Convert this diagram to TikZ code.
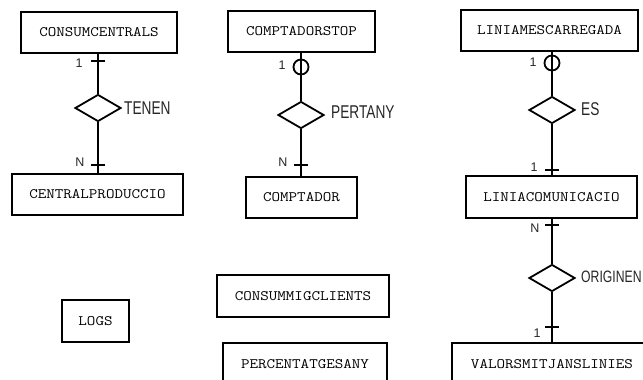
\documentclass[tikz,border=0pt]{standalone}
\usepackage{fontspec}
\setmainfont{Liberation Sans}
\newfontfamily\boxfont[FakeStretch=1.15]{Latin Modern Mono}
\newfontfamily\labfont[FakeStretch=0.74]{Liberation Sans}
\usetikzlibrary{shapes.geometric,calc}
\begin{document}
\begin{tikzpicture}[x=1pt,y=-1pt,
  entity/.style={draw,line width=1.8pt,rectangle,inner sep=0pt,minimum height=41pt,
    font=\boxfont\fontsize{14.4}{16}\selectfont,text=black},
  rel/.style={draw,line width=1.8pt,diamond,inner sep=0pt,minimum width=46pt,minimum height=27pt},
  conn/.style={line width=1.8pt},
  card/.style={font=\fontsize{12.5}{14}\selectfont,inner sep=0pt,text=black!85},
  rlabel/.style={font=\labfont\fontsize{18.5}{20}\selectfont,inner sep=0pt,anchor=west,text=black!85}]
\useasboundingbox (0,0) rectangle (643,380);
\clip (0,0) rectangle (643,380);
\fill[white] (0,0) rectangle (643,380);

% column 1
\node[entity,minimum width=156pt] (cc) at (99,32.5) {CONSUMCENTRALS};
\node[entity,minimum width=171pt] (cp) at (97.5,194.5) {CENTRALPRODUCCIO};
\node[rel] (tenen) at (98,108) {};
\node[rlabel] (tenenl) at (124,108) {TENEN};
\draw[conn] (tenen.north) -- (tenen.north |- cc.south);
\draw[conn] (tenen.south) -- (tenen.south |- cp.north);
\coordinate (t1) at (98,61);
\draw[conn] ($(t1)+(-7,0)$) -- ($(t1)+(7,0)$);
\node[card] (c1a) at (79,63) {1};
\coordinate (t2) at (98,165);
\draw[conn] ($(t2)+(-7,0)$) -- ($(t2)+(7,0)$);
\node[card] (c1b) at (80,162) {N};

% column 2
\node[entity,minimum width=147pt] (cs) at (301.5,31.5) {COMPTADORSTOP};
\node[entity,minimum width=111pt] (cm) at (301.5,197.5) {COMPTADOR};
\node[rel] (pert) at (301,115) {};
\node[rlabel] (pertl) at (331,112) {PERTANY};
\draw[conn] (pert.north) -- (pert.north |- cs.south);
\draw[conn] (pert.south) -- (pert.south |- cm.north);
\draw[conn] (301,67) circle (7.5);
\node[card] (c2a) at (282,65) {1};
\coordinate (t3) at (301,165);
\draw[conn] ($(t3)+(-7,0)$) -- ($(t3)+(7,0)$);
\node[card] (c2b) at (283,162) {N};

% column 3
\node[entity,minimum width=177pt] (lm) at (549.5,30.5) {LINIAMESCARREGADA};
\node[entity,minimum width=171pt,minimum height=42pt] (lc) at (551.5,197) {LINIACOMUNICACIO};
\node[entity,minimum width=200pt,minimum height=42pt] (vm) at (552,364) {VALORSMITJANSLINIES};
\node[rel] (es) at (552,110) {};
\node[rlabel] (esl) at (581,109) {ES};
\draw[conn] (es.north) -- (es.north |- lm.south);
\draw[conn] (es.south) -- (es.south |- lc.north);
\draw[conn] (552,63) circle (7.5);
\node[card] (c3a) at (533,62) {1};
\coordinate (t4) at (552,170);
\draw[conn] ($(t4)+(-7,0)$) -- ($(t4)+(7,0)$);
\node[card] (c3b) at (534,167) {1};

\node[rel] (orig) at (552,278) {};
\node[rlabel,font=\labfont\fontsize{16.5}{18}\selectfont] (origl) at (581,277) {ORIGINEN};
\draw[conn] (orig.north) -- (orig.north |- lc.south);
\draw[conn] (orig.south) -- (orig.south |- vm.north);
\coordinate (t5) at (552,225);
\draw[conn] ($(t5)+(-7,0)$) -- ($(t5)+(7,0)$);
\node[card] (c4a) at (535,228) {N};
\coordinate (t6) at (552,327);
\draw[conn] ($(t6)+(-7,0)$) -- ($(t6)+(7,0)$);
\node[card] (c4b) at (537,333) {1};

% isolated entities
\node[entity,minimum width=67pt,minimum height=42pt] (logs) at (95.5,321) {LOGS};
\node[entity,minimum width=172pt,minimum height=42pt] (cmc) at (303,296) {CONSUMMIGCLIENTS};
\node[entity,minimum width=164pt,minimum height=42pt] (pct) at (305,364) {PERCENTATGESANY};
\end{tikzpicture}
\end{document}
